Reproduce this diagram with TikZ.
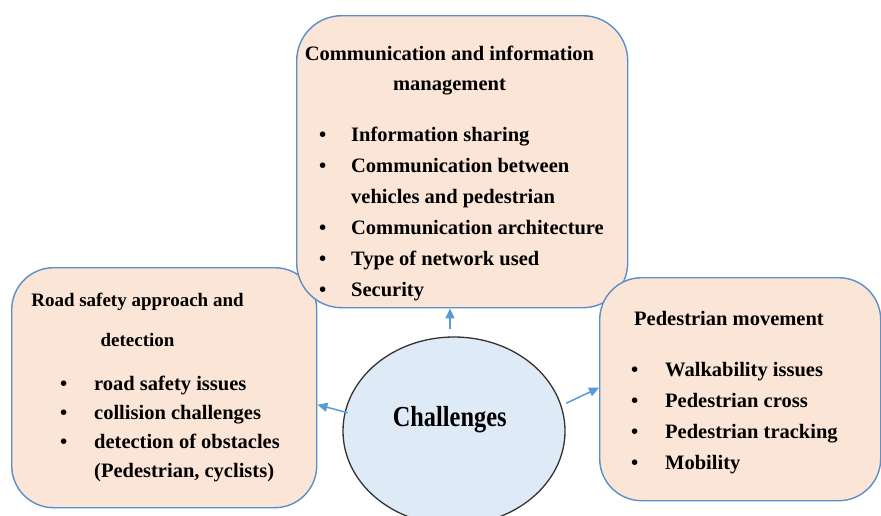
\documentclass[tikz,border=0pt]{standalone}
\usepackage{fontspec}
\setmainfont{Liberation Serif}
\usetikzlibrary{shapes.geometric, arrows.meta}

\definecolor{boxfill}{HTML}{FBE5D6}
\definecolor{boxline}{HTML}{5B8FC7}
\definecolor{ovalfill}{HTML}{DEEBF7}
\definecolor{arrowblue}{HTML}{5B9BD5}

% bullet line, text starts #1 after the bullet
\newcommand{\itm}[2][34pt]{\makebox[#1][l]{\textbullet}#2}

\tikzset{
	box/.style = {draw=boxline, fill=boxfill, line width=1.4pt, rounded corners=42pt, anchor=north west, inner sep=0pt},
	head/.style = {anchor=base, align=center, inner sep=0pt, font=\bfseries\fontsize{20.5}{30.7}\selectfont},
	list/.style = {anchor=base west, align=left, inner sep=0pt, font=\bfseries\fontsize{20.5}{31}\selectfont},
	link/.style = {draw=arrowblue, line width=1.5pt, -{Triangle[length=10pt, width=9pt]}}
}

\begin{document}
\begin{tikzpicture} [x = 1pt, y = -1pt]

	\useasboundingbox (0, 0) rectangle (881, 515);

	% text nodes sit on the baseline of their last line

% Road safety box (left).

	\node [box, minimum width = 305pt, minimum height = 240pt] (rsafe) at (11, 267) {};
	\node [head, font = \bfseries\fontsize{19}{40}\selectfont] (rsafehead) at (137.5, 346.7) {Road safety approach and\\detection};
	\node [list, font = \bfseries\fontsize{20.5}{29.3}\selectfont] (rsafelist) at (60, 477.9)
		{\itm{road safety issues}\\ \itm{collision challenges}\\ \itm{detection of obstacles}\\ \hspace*{34pt}(Pedestrian, cyclists)};

% Communication box (top).

	\node [box, rounded corners = 45pt, minimum width = 331pt, minimum height = 292pt] (comm) at (296, 15) {};
	\node [head] (commhead) at (449.5, 90.7) {Communication and information\\management};
	\node [list] (commlist) at (319, 296.7)
		{\itm[32pt]{Information sharing}\\ \itm[32pt]{Communication between}\\ \hspace*{32pt}vehicles and pedestrian\\
		 \itm[32pt]{Communication architecture}\\ \itm[32pt]{Type of network used}\\ \itm[32pt]{Security}};

% Pedestrian box (right).

	\node [box, minimum width = 281pt, minimum height = 223pt] (ped) at (599, 277) {};
	\node [head] (pedhead) at (729, 325) {Pedestrian movement};
	\node [list, font = \bfseries\fontsize{20.5}{31.3}\selectfont] (pedlist) at (631, 469.9)
		{\itm{Walkability issues}\\ \itm{Pedestrian cross}\\ \itm{Pedestrian tracking}\\ \itm{Mobility}};

% Centre oval.

	\node [ellipse, draw = black!80, fill = ovalfill, line width = 1.3pt, inner sep = 0pt, minimum width = 222pt, minimum height = 188pt] (chal) at (454, 431) {};
	\node [anchor = base, inner sep = 0pt, font = \bfseries\fontsize{29}{34}\selectfont] (chaltxt) at (449.7, 426) {\scalebox{0.84}[1]{Challenges}};

% Draw arrows.

	\draw [link] ([shift = {(-4, -7)}]chal.north) -- ([xshift = -4pt]chal.north |- comm.south);
	\draw [link] ([shift = {(3, 1)}]chal.170) -- ([shift = {(0, 17)}]rsafe.east);
	\draw [link] ([shift = {(5, -1)}]chal.14) -- ([shift = {(0, -1.5)}]ped.west);

\end{tikzpicture}
\end{document}
